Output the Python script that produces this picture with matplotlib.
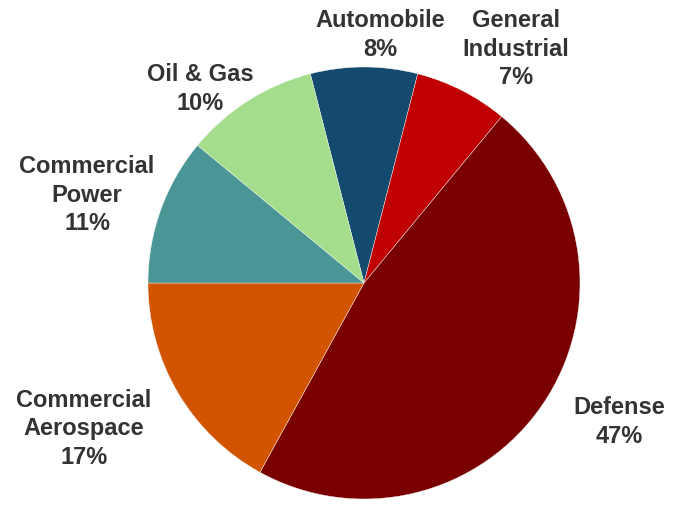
import matplotlib
matplotlib.use('Agg')
import matplotlib.pyplot as plt

## Data, clockwise from the top
labels = ['Automobile', 'General\nIndustrial', 'Defense',
          'Commercial\nAerospace', 'Commercial\nPower', 'Oil & Gas']
shares = [8, 7, 47, 17, 11, 10]
colors = ['#144a6e', '#c00000', '#7a0000', '#d35400', '#4a9696', '#a4de8c']

# label anchor points (pixel coords, y from top)
label_xy = [(380, 35), (516, 49), (619, 422),
            (84, 429), (87, 195), (200, 89)]

W, H = 680, 508
fig = plt.figure(figsize=(W / 100, H / 100), dpi=100)
ax = fig.add_axes([0, 0, 1, 1])

cx, cy, r = 364, H - 283, 216
ax.pie(shares, colors=colors, startangle=104.4, counterclock=False,
       center=(cx, cy), radius=r, frame=True,
       wedgeprops=dict(linewidth=0.3, edgecolor='#f4f4f4'))
ax.set_xlim(0, W)
ax.set_ylim(0, H)
ax.set_aspect('equal')
ax.axis('off')

for lab, val, (x, y) in zip(labels, shares, label_xy):
    ax.text(x, H - y, f'{lab}\n{val}%', ha='center', va='center',
            fontsize=17, fontweight='bold', color='#333333',
            family='Liberation Sans', linespacing=1.3)

fig.savefig('out.png', dpi=100)
